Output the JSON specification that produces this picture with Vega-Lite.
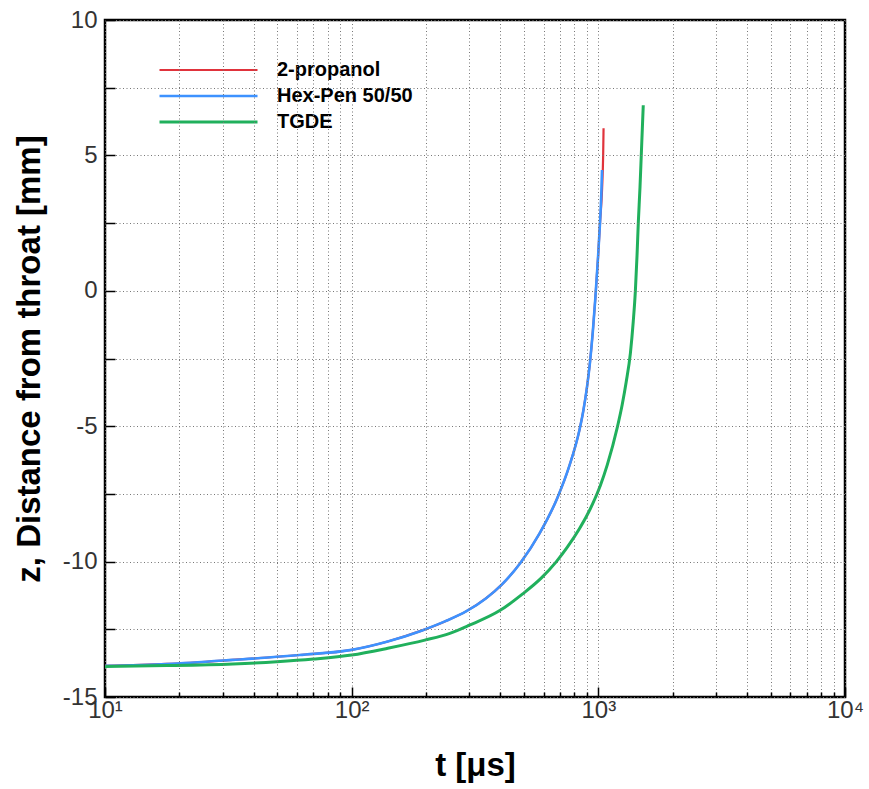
{
  "$schema": "https://vega.github.io/schema/vega-lite/v6.json",
  "width": 740,
  "height": 677,
  "autosize": {"type": "none"},
  "padding": {"left": 105, "top": 20, "right": 24, "bottom": 92},
  "background": "white",
  "config": {
    "font": "Liberation Sans",
    "view": {"stroke": "black", "strokeWidth": 2.5},
    "axis": {
      "gridColor": "#777777",
      "gridDash": [1, 2.5],
      "gridWidth": 1,
      "labelFont": "Liberation Sans",
      "labelFontSize": 24,
      "labelColor": "#333333",
      "titleFont": "Liberation Sans",
      "titleFontSize": 33,
      "titleFontWeight": "bold",
      "titleColor": "black",
      "labelOverlap": false,
      "labelFlush": false
    }
  },
  "datasets": {
    "curves": [
      {"series": "2-propanol", "t": 10, "z": -13.85},
      {"series": "2-propanol", "t": 17.8, "z": -13.78},
      {"series": "2-propanol", "t": 33, "z": -13.63},
      {"series": "2-propanol", "t": 61.5, "z": -13.45},
      {"series": "2-propanol", "t": 100, "z": -13.26},
      {"series": "2-propanol", "t": 140, "z": -12.95},
      {"series": "2-propanol", "t": 192, "z": -12.55},
      {"series": "2-propanol", "t": 240, "z": -12.2},
      {"series": "2-propanol", "t": 292, "z": -11.83},
      {"series": "2-propanol", "t": 350, "z": -11.36},
      {"series": "2-propanol", "t": 405, "z": -10.86},
      {"series": "2-propanol", "t": 483, "z": -10.05},
      {"series": "2-propanol", "t": 577, "z": -8.97},
      {"series": "2-propanol", "t": 682, "z": -7.65},
      {"series": "2-propanol", "t": 764, "z": -6.45},
      {"series": "2-propanol", "t": 838, "z": -5.15},
      {"series": "2-propanol", "t": 870, "z": -4.41},
      {"series": "2-propanol", "t": 900, "z": -3.54},
      {"series": "2-propanol", "t": 925, "z": -2.64},
      {"series": "2-propanol", "t": 950, "z": -1.5},
      {"series": "2-propanol", "t": 973, "z": -0.25},
      {"series": "2-propanol", "t": 996, "z": 1.15},
      {"series": "2-propanol", "t": 1016, "z": 2.5},
      {"series": "2-propanol", "t": 1036, "z": 3.8},
      {"series": "2-propanol", "t": 1046, "z": 5.0},
      {"series": "2-propanol", "t": 1050, "z": 6.0},
      {"series": "Hex-Pen 50/50", "t": 10, "z": -13.85},
      {"series": "Hex-Pen 50/50", "t": 17.8, "z": -13.78},
      {"series": "Hex-Pen 50/50", "t": 33, "z": -13.63},
      {"series": "Hex-Pen 50/50", "t": 61.5, "z": -13.45},
      {"series": "Hex-Pen 50/50", "t": 100, "z": -13.26},
      {"series": "Hex-Pen 50/50", "t": 140, "z": -12.95},
      {"series": "Hex-Pen 50/50", "t": 192, "z": -12.55},
      {"series": "Hex-Pen 50/50", "t": 240, "z": -12.2},
      {"series": "Hex-Pen 50/50", "t": 292, "z": -11.83},
      {"series": "Hex-Pen 50/50", "t": 350, "z": -11.36},
      {"series": "Hex-Pen 50/50", "t": 405, "z": -10.86},
      {"series": "Hex-Pen 50/50", "t": 483, "z": -10.05},
      {"series": "Hex-Pen 50/50", "t": 577, "z": -8.97},
      {"series": "Hex-Pen 50/50", "t": 682, "z": -7.65},
      {"series": "Hex-Pen 50/50", "t": 764, "z": -6.45},
      {"series": "Hex-Pen 50/50", "t": 838, "z": -5.15},
      {"series": "Hex-Pen 50/50", "t": 870, "z": -4.41},
      {"series": "Hex-Pen 50/50", "t": 900, "z": -3.54},
      {"series": "Hex-Pen 50/50", "t": 925, "z": -2.64},
      {"series": "Hex-Pen 50/50", "t": 950, "z": -1.5},
      {"series": "Hex-Pen 50/50", "t": 972, "z": -0.3},
      {"series": "Hex-Pen 50/50", "t": 995, "z": 1.1},
      {"series": "Hex-Pen 50/50", "t": 1015, "z": 2.46},
      {"series": "Hex-Pen 50/50", "t": 1028, "z": 3.56},
      {"series": "Hex-Pen 50/50", "t": 1035, "z": 4.46},
      {"series": "TGDE", "t": 10, "z": -13.87},
      {"series": "TGDE", "t": 17.8, "z": -13.84},
      {"series": "TGDE", "t": 33, "z": -13.78},
      {"series": "TGDE", "t": 49.7, "z": -13.7},
      {"series": "TGDE", "t": 70, "z": -13.6},
      {"series": "TGDE", "t": 100, "z": -13.45},
      {"series": "TGDE", "t": 140, "z": -13.2},
      {"series": "TGDE", "t": 198, "z": -12.9},
      {"series": "TGDE", "t": 250, "z": -12.65},
      {"series": "TGDE", "t": 300, "z": -12.35},
      {"series": "TGDE", "t": 400, "z": -11.8},
      {"series": "TGDE", "t": 492, "z": -11.2},
      {"series": "TGDE", "t": 588, "z": -10.6},
      {"series": "TGDE", "t": 676, "z": -10.0},
      {"series": "TGDE", "t": 750, "z": -9.46},
      {"series": "TGDE", "t": 838, "z": -8.79},
      {"series": "TGDE", "t": 946, "z": -7.89},
      {"series": "TGDE", "t": 1019, "z": -7.19},
      {"series": "TGDE", "t": 1087, "z": -6.43},
      {"series": "TGDE", "t": 1194, "z": -5.04},
      {"series": "TGDE", "t": 1250, "z": -4.2},
      {"series": "TGDE", "t": 1297, "z": -3.37},
      {"series": "TGDE", "t": 1349, "z": -2.3},
      {"series": "TGDE", "t": 1385, "z": -1.15},
      {"series": "TGDE", "t": 1413, "z": 0.0},
      {"series": "TGDE", "t": 1435, "z": 1.3},
      {"series": "TGDE", "t": 1452, "z": 2.5},
      {"series": "TGDE", "t": 1475, "z": 3.8},
      {"series": "TGDE", "t": 1493, "z": 5.0},
      {"series": "TGDE", "t": 1508, "z": 6.0},
      {"series": "TGDE", "t": 1521, "z": 6.85}
    ],
    "legendbox": [{"t0": 10.2, "t1": 250, "z0": 4.95, "z1": 9.9}]
  },
  "layer": [
    {
      "data": {"name": "legendbox"},
      "mark": {"type": "rect", "fill": "white", "stroke": null},
      "encoding": {
        "x": {
          "field": "t0", "type": "quantitative",
          "scale": {"type": "log", "domain": [10, 10000], "nice": false},
          "axis": {
            "title": "t [μs]",
            "titlePadding": 22,
            "domain": false,
            "ticks": true,
            "tickColor": "#000000",
            "tickOpacity": 1,
            "tickWidth": 1.5,
            "tickSize": {"condition": {"test": "datum.value == 10 || datum.value == 100 || datum.value == 1000 || datum.value == 10000", "value": -10}, "value": -5},
            "zindex": 1,
            "values": [10, 20, 30, 40, 50, 60, 70, 80, 90, 100, 200, 300, 400, 500, 600, 700, 800, 900, 1000, 2000, 3000, 4000, 5000, 6000, 7000, 8000, 9000, 10000],
            "labelExpr": "datum.value == 10 ? '10¹' : datum.value == 100 ? '10²' : datum.value == 1000 ? '10³' : datum.value == 10000 ? '10⁴' : ''",
            "labelPadding": 11
          }
        },
        "x2": {"field": "t1"},
        "y": {
          "field": "z0", "type": "quantitative",
          "scale": {"domain": [-15, 10], "nice": false, "zero": false},
          "axis": {
            "title": "z, Distance from throat [mm]",
            "titlePadding": 16,
            "domain": false,
            "ticks": true,
            "tickColor": "#000000",
            "tickOpacity": 1,
            "tickWidth": 1.5,
            "tickSize": {"condition": {"test": "datum.value % 2.5 == 0", "value": -10}, "value": -5},
            "zindex": 1,
            "values": [-15, -13.75, -12.5, -11.25, -10, -8.75, -7.5, -6.25, -5, -3.75, -2.5, -1.25, 0, 1.25, 2.5, 3.75, 5, 6.25, 7.5, 8.75, 10],
            "labelExpr": "datum.value % 5 == 0 ? toString(datum.value) : ''",
            "gridOpacity": {"condition": {"test": "datum.value % 2.5 == 0", "value": 1}, "value": 0},
            "labelPadding": 18
          }
        },
        "y2": {"field": "z1"}
      }
    },
    {
      "data": {"name": "curves"},
      "mark": {"type": "line", "clip": true, "interpolate": "monotone"},
      "encoding": {
        "x": {"field": "t", "type": "quantitative"},
        "y": {"field": "z", "type": "quantitative"},
        "color": {
          "field": "series", "type": "nominal",
          "scale": {"domain": ["2-propanol", "Hex-Pen 50/50", "TGDE"], "range": ["#e0333c", "#3d92ff", "#20b05c"]},
          "legend": {
            "title": null,
            "orient": "none",
            "legendX": 53,
            "legendY": 37,
            "padding": 0,
            "symbolType": "stroke",
            "symbolSize": 9604,
            "clipHeight": 26,
            "labelFont": "Liberation Sans",
            "labelFontSize": 20,
            "labelFontWeight": "bold",
            "labelColor": "black",
            "labelOffset": 18,
            "rowPadding": 0
          }
        },
        "strokeWidth": {
          "field": "series", "type": "nominal",
          "scale": {"domain": ["2-propanol", "Hex-Pen 50/50", "TGDE"], "range": [2.2, 3, 2.2]},
          "legend": null
        },
        "order": {"field": "t", "type": "quantitative"}
      }
    }
  ]
}
